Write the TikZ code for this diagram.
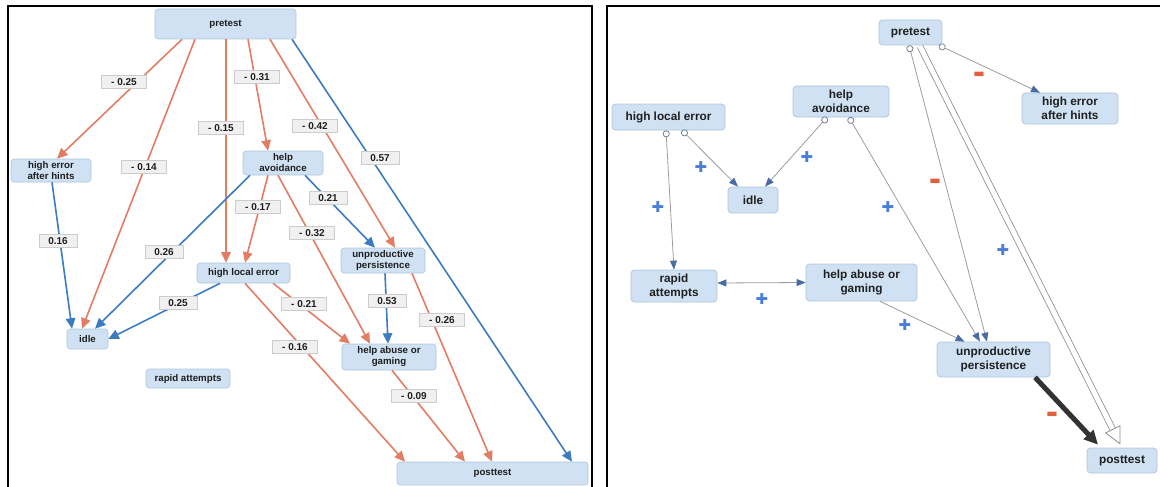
\documentclass[tikz,border=0pt]{standalone}
\usepackage{fontspec}
\setmainfont{Liberation Sans}
\newfontfamily\symfont{DejaVu Sans}
\usetikzlibrary{arrows.meta,calc}
\definecolor{nfill}{HTML}{CFE1F2}
\definecolor{nborder}{HTML}{AFC6DF}
\definecolor{textc}{HTML}{1F1F1F}
\definecolor{oc}{HTML}{E27D64}
\definecolor{bc}{HTML}{3B7BBF}
\definecolor{labfill}{HTML}{F0F0F0}
\definecolor{labdraw}{HTML}{CCCCCC}
\definecolor{rline}{HTML}{9C9C9C}
\definecolor{tipc}{HTML}{4A6CA6}
\definecolor{circc}{HTML}{6E7F99}
\definecolor{hgray}{HTML}{8E8E8E}
\definecolor{darkc}{HTML}{333333}
\definecolor{pluscol}{HTML}{4A7FD8}
\definecolor{minuscol}{HTML}{E0603E}
\tikzset{
  lnode/.style={rounded corners=3pt, fill=nfill, draw=nborder, line width=0.6pt,
    font=\fontsize{9.7}{11}\selectfont\bfseries, text=textc, align=center, inner sep=0pt},
  rnode/.style={rounded corners=3.5pt, fill=nfill, draw=nborder, line width=0.7pt,
    font=\fontsize{11.8}{14}\selectfont\bfseries, text=textc, align=center, inner sep=0pt},
  lab/.style={fill=labfill, draw=labdraw, line width=0.5pt, inner xsep=9.5pt, inner ysep=1pt,
    minimum height=13pt, font=\fontsize{10}{11}\selectfont\bfseries, text=textc},
  oe/.style={draw=oc, line width=1.6pt, -{Triangle[length=10.5pt,width=9.5pt,color=oc]}},
  be/.style={draw=bc, line width=1.6pt, -{Triangle[length=10.5pt,width=9.5pt,color=bc]}},
  re/.style={draw=rline, line width=0.8pt, -{Triangle[length=9pt,width=7pt,color=tipc]}},
  rec/.style={draw=rline, line width=0.8pt, {Circle[length=7pt,color=circc,fill=white]}-{Triangle[length=9pt,width=7pt,color=tipc]}},
  rboth/.style={draw=rline, line width=0.8pt, {Triangle[length=9pt,width=7pt,color=tipc]}-{Triangle[length=9pt,width=7pt,color=tipc]}},
  plussign/.style={font=\symfont\fontsize{15}{15}\selectfont, text=pluscol, inner sep=0pt},
  minussign/.style={font=\symfont\fontsize{12}{12}\selectfont, text=minuscol, inner sep=0pt},
  frame/.style={draw=black, line width=1.2pt}
}
\begin{document}
\begin{tikzpicture}[x=1pt,y=-1pt]
\useasboundingbox (0,0) rectangle (1160,487);
% panel frames
\draw[frame] (8,487) -- (8,6) -- (592,6) -- (592,487);
\draw[frame] (607,487) -- (607,6) -- (1160,6);

% ---------- left panel ----------
\node[lnode, minimum width=141pt, minimum height=30pt] (pre) at (225.5,24) {pretest};
\node[lnode, minimum width=80pt, minimum height=23pt] (hea) at (51,170.5) {high error\\after hints};
\node[lnode, minimum width=80pt, minimum height=24pt] (ha) at (283,163) {help\\avoidance};
\node[lnode, minimum width=93pt, minimum height=20pt] (hle) at (243.5,273) {high local error};
\node[lnode, minimum width=84pt, minimum height=25pt] (up) at (383,260.5) {unproductive\\persistence};
\node[lnode, minimum width=41pt, minimum height=20pt] (idle) at (87.5,339) {idle};
\node[lnode, minimum width=84pt, minimum height=19pt] (ra) at (188,378.5) {rapid attempts};
\node[lnode, minimum width=94pt, minimum height=26pt] (hag) at (389,357) {help abuse or\\gaming};
\node[lnode, minimum width=191pt, minimum height=23pt] (post) at (492.5,473.5) {posttest};

\draw[oe] ([xshift=-43.5pt]pre.south) -- ([xshift=6pt]hea.north);
\draw[oe] ([xshift=-30.5pt]pre.south) -- ([xshift=-5.5pt]idle.north);
\draw[oe] ([xshift=0.5pt]pre.south) -- ([xshift=-17.5pt]hle.north);
\draw[oe] ([xshift=22.5pt]pre.south) -- ([xshift=-15pt]ha.north);
\draw[oe] ([xshift=44.5pt]pre.south) -- ([xshift=12pt]up.north);
\draw[be] ([xshift=66.5pt]pre.south) -- ([xshift=79.5pt]post.north);
\draw[be] ([xshift=1pt]hea.south) -- ([xshift=-15.5pt]idle.north);
\draw[be] ([xshift=-33pt]ha.south) -- ([xshift=7.5pt]idle.north);
\draw[oe] ([xshift=-15pt]ha.south) -- ([xshift=1.5pt]hle.north);
\draw[oe] ([xshift=-5pt]ha.south) -- ([xshift=-19pt]hag.north);
\draw[be] ([xshift=22pt]ha.south) -- ([xshift=-8pt]up.north);
\draw[be] ([xshift=-23.5pt]hle.south) -- (idle.east);
\draw[oe] ([xshift=29.5pt]hle.south) -- ([xshift=-39pt]hag.north);
\draw[oe] ([xshift=1.5pt]hle.south) -- ([xshift=-87.5pt]post.north);
\draw[be] ([xshift=2pt]up.south) -- ([xshift=-1pt]hag.north);
\draw[oe] ([xshift=29pt]up.south) -- ([xshift=-0.5pt]post.north);
\draw[oe] ([xshift=3pt]hag.south) -- ([xshift=-27.5pt]post.north);

\node[lab] (l1) at (124,82) {- 0.25};
\node[lab] (l2) at (144,167) {- 0.14};
\node[lab] (l3) at (221,128) {- 0.15};
\node[lab] (l4) at (257,77) {- 0.31};
\node[lab] (l5) at (315,126) {- 0.42};
\node[lab] (l6) at (380,158) {0.57};
\node[lab] (l7) at (58,241) {0.16};
\node[lab] (l8) at (164,252) {0.26};
\node[lab] (l9) at (258,207) {- 0.17};
\node[lab] (l10) at (312,233) {- 0.32};
\node[lab] (l11) at (328,198) {0.21};
\node[lab] (l12) at (178,303) {0.25};
\node[lab] (l13) at (304,304) {- 0.21};
\node[lab] (l14) at (295,347) {- 0.16};
\node[lab] (l15) at (387,301) {0.53};
\node[lab] (l16) at (442,320) {- 0.26};
\node[lab] (l17) at (414,396) {- 0.09};

% ---------- right panel ----------
\node[rnode, minimum width=63pt, minimum height=25pt] (rpre) at (910.5,32.5) {pretest};
\node[rnode, minimum width=96pt, minimum height=31pt] (rhea) at (1070,108.5) {high error\\after hints};
\node[rnode, minimum width=113pt, minimum height=26pt] (rhle) at (668.5,117) {high local error};
\node[rnode, minimum width=96pt, minimum height=31pt] (rha) at (841,101.5) {help\\avoidance};
\node[rnode, minimum width=50pt, minimum height=26pt] (ridle) at (753,200) {idle};
\node[rnode, minimum width=86pt, minimum height=32pt] (rra) at (674,286) {rapid\\attempts};
\node[rnode, minimum width=111pt, minimum height=37pt] (rhag) at (861.5,282.5) {help abuse or\\gaming};
\node[rnode, minimum width=113pt, minimum height=35pt] (rup) at (993.5,359.5) {unproductive\\persistence};
\node[rnode, minimum width=70pt, minimum height=25pt] (rpost) at (1122,460.5) {posttest};

% hollow arrow pretest -> posttest
\coordinate (cS) at ([xshift=9.5pt,yshift=-1pt]rpre.south);
\coordinate (cE) at ([xshift=-2pt,yshift=4pt]rpost.north);
\coordinate (cB) at ($(cE)!16pt!(cS)$);
\draw[draw=hgray, line width=0.8pt, double=white, double distance=5pt] (cS) -- ($(cE)!15pt!(cS)$);
\filldraw[fill=white, draw=hgray, line width=0.8pt] ($(cB)!8pt!90:(cE)$) -- (cE) -- ($(cB)!8pt!-90:(cE)$) -- cycle;

\draw[rec] ([xshift=28.5pt]rpre.south) -- ([xshift=-30pt]rhea.north);
\draw[rec] ([xshift=-1.5pt]rpre.south) -- ([xshift=-6.5pt]rup.north);
\draw[rec] ([xshift=-14pt]rha.south) -- ([xshift=12pt]ridle.north);
\draw[rec] ([xshift=8pt]rha.south) -- ([xshift=-13.5pt]rup.north);
\draw[rec] ([xshift=13.5pt]rhle.south) -- ([xshift=-15pt]ridle.north);
\draw[rec] ([xshift=-2.5pt]rhle.south) -- (rra.north);
\draw[rboth] ([yshift=3pt]rra.east) -- (rhag.west);
\draw[re] ([xshift=18.5pt]rhag.south) -- ([xshift=-29pt]rup.north);
\draw[draw=darkc, line width=5pt, -{Triangle[length=14pt,width=13pt,color=darkc]}] ([xshift=41.5pt]rup.south) -- ([xshift=-24pt,yshift=3pt]rpost.north);

\node[minussign] (m1) at (979,75) {▬};
\node[minussign] (m2) at (935,182) {▬};
\node[minussign] (m3) at (1052,415) {▬};
\node[plussign] (p1) at (1003,250) {✚};
\node[plussign] (p2) at (807,157) {✚};
\node[plussign] (p3) at (888,207) {✚};
\node[plussign] (p4) at (701,167) {✚};
\node[plussign] (p5) at (658,207) {✚};
\node[plussign] (p6) at (762,299) {✚};
\node[plussign] (p7) at (905,325) {✚};
\end{tikzpicture}
\end{document}
